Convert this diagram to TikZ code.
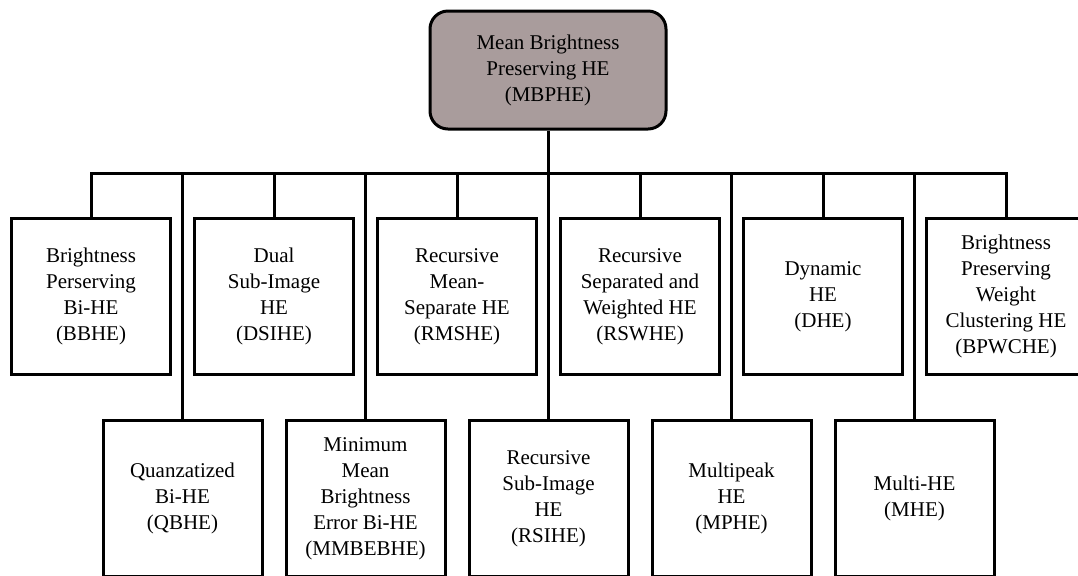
\documentclass[tikz,border=0pt]{standalone}
\usepackage{fontspec}
\setmainfont{Liberation Serif}
\usepackage{xcolor}
\usetikzlibrary{positioning}

\definecolor{rootgray}{RGB}{169,156,156}

\begin{document}
\begin{tikzpicture}[
  x=0.5pt, y=-0.5pt,
  node distance=10.5pt,
  box/.style={draw, line width=1.5pt, minimum width=79.5pt, minimum height=78pt,
    align=center, inner sep=2pt, font=\fontsize{10.5}{13}\selectfont},
  rootbox/.style={box, rounded corners=9pt, fill=rootgray, minimum width=118pt, minimum height=59pt},
  link/.style={line width=1.5pt}]
  \useasboundingbox (0,0) rectangle (1078,575);
  \clip (0,0) rectangle (1078,575);
  % root
  \node[rootbox] (mbphe) at (548,70) {Mean Brightness\\Preserving HE\\(MBPHE)};
  \coordinate (bus) at (548,173);
  % upper row
  \node[box] (bbhe) at (91,296.5) {Brightness\\Perserving\\Bi-HE\\(BBHE)};
  \node[box, right=of bbhe]  (dsihe)  {Dual\\Sub-Image\\HE\\(DSIHE)};
  \node[box, right=of dsihe] (rmshe)  {Recursive\\Mean-\\Separate HE\\(RMSHE)};
  \node[box, right=of rmshe] (rswhe)  {Recursive\\Separated and\\Weighted HE\\(RSWHE)};
  \node[box, right=of rswhe] (dhe)    {Dynamic\\HE\\(DHE)};
  \node[box, right=of dhe]   (bpwche) {Brightness\\Preserving\\Weight\\Clustering HE\\(BPWCHE)};
  % lower row
  \node[box] (qbhe) at (182.5,498.5) {Quanzatized\\Bi-HE\\(QBHE)};
  \node[box, right=of qbhe]    (mmbebhe) {Minimum\\Mean\\Brightness\\Error Bi-HE\\(MMBEBHE)};
  \node[box, right=of mmbebhe] (rsihe)   {Recursive\\Sub-Image\\HE\\(RSIHE)};
  \node[box, right=of rsihe]   (mphe)    {Multipeak\\HE\\(MPHE)};
  \node[box, right=of mphe]    (mhe)     {Multi-HE\\(MHE)};
  % links
  \draw[link] (mbphe.south) -- (mbphe.south |- bus);
  \draw[link] (bbhe.north) |- (bus) -| (bpwche.north);
  \foreach \n in {dsihe,rmshe,rswhe,dhe,qbhe,mmbebhe,rsihe,mphe,mhe}
    \draw[link] (\n.north) -- (\n.north |- bus);
\end{tikzpicture}
\end{document}
